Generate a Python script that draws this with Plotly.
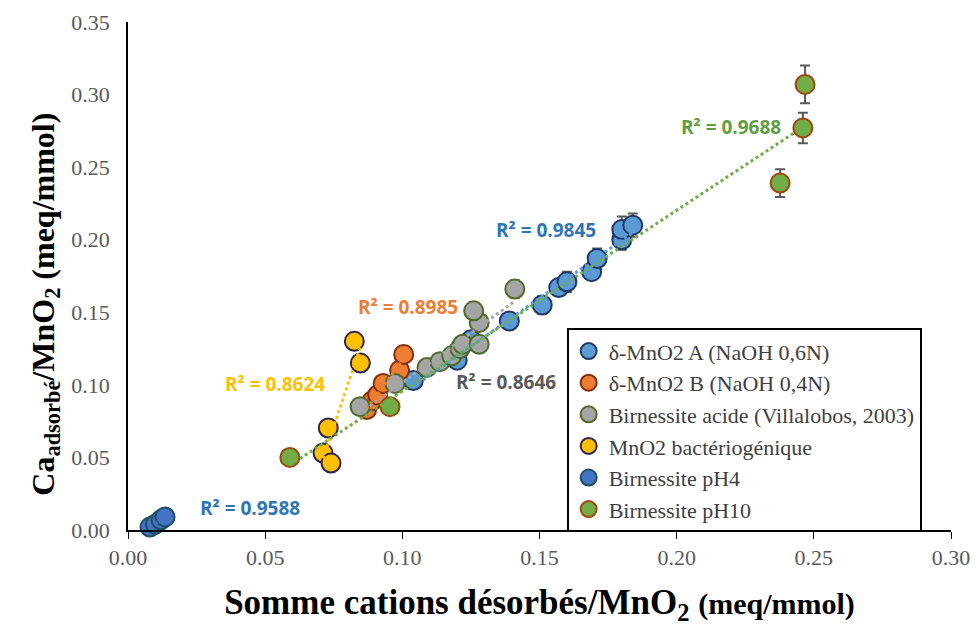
import numpy as np
import plotly.graph_objects as go

# ---------------- data ----------------
series_names = [
    "δ-MnO2 A (NaOH 0,6N)",
    "δ-MnO2 B (NaOH 0,4N)",
    "Birnessite acide (Villalobos, 2003)",
    "MnO2 bactériogénique",
    "Birnessite pH4",
    "Birnessite pH10",
]

a_x = [0.104, 0.120, 0.125, 0.139, 0.151, 0.157, 0.160, 0.169, 0.171, 0.180, 0.180, 0.184]
a_y = [0.103, 0.117, 0.131, 0.144, 0.155, 0.167, 0.171, 0.178, 0.187, 0.200, 0.207, 0.210]
a_err = [0.0, 0.0, 0.0, 0.0, 0.006, 0.0, 0.007, 0.0, 0.007, 0.007, 0.009, 0.008]

b_x = [0.087, 0.089, 0.091, 0.093, 0.099, 0.1005]
b_y = [0.083, 0.089, 0.093, 0.101, 0.110, 0.121]

ac_x = [0.0846, 0.0973, 0.109, 0.1137, 0.118, 0.121, 0.122, 0.128, 0.128, 0.126, 0.141]
ac_y = [0.085, 0.101, 0.112, 0.116, 0.120, 0.125, 0.128, 0.128, 0.143, 0.151, 0.166]
ac_err = [0, 0, 0, 0, 0, 0, 0, 0, 0, 0.004, 0.006]

bact_x = [0.0825, 0.0847, 0.0730, 0.0711, 0.0740]
bact_y = [0.130, 0.115, 0.0703, 0.0530, 0.0461]

ph4_x = [0.008, 0.010, 0.012, 0.0135]
ph4_y = [0.002, 0.004, 0.007, 0.009]

ph10_x = [0.059, 0.0955, 0.2377, 0.2460, 0.2468]
ph10_y = [0.050, 0.085, 0.239, 0.277, 0.307]
ph10_err = [0, 0, 0.0095, 0.0105, 0.013]

r2_labels = ["R² = 0.9845", "R² = 0.8985", "R² = 0.8646", "R² = 0.8624", "R² = 0.9588", "R² = 0.9688"]
r2_x = [0.1524, 0.1021, 0.1378, 0.0536, 0.0445, 0.2198]
r2_y = [0.2067, 0.1537, 0.1020, 0.1006, 0.0152, 0.2777]

fills = ["#5B9BD5", "#ED7D31", "#A5A5A5", "#FFC000", "#4472C4", "#70AD47"]
borders = ["#1F3864", "#842D0C", "#4E6B2A", "#2E2352", "#1F4E5F", "#9E480E"]
text_colors = ["#2E75B6", "#ED7D31", "#595959", "#FFC000", "#2E75B6", "#5E9E3E"]

xs = [a_x, b_x, ac_x, bact_x, ph4_x, ph10_x]
ys = [a_y, b_y, ac_y, bact_y, ph4_y, ph10_y]
errs = [a_err, None, ac_err, None, None, ph10_err]

fig = go.Figure()

for i in range(6):
    err = None
    if errs[i] is not None:
        err = dict(type="data", array=errs[i], visible=True, color="#595959",
                   thickness=2, width=5)
    fig.add_trace(go.Scatter(
        x=xs[i], y=ys[i], mode="markers", name=series_names[i],
        marker=dict(size=19, color=fills[i], line=dict(color=borders[i], width=2)),
        error_y=err, cliponaxis=False,
    ))

# trendlines (linear fits)
for i in range(6):
    xv = np.array(xs[i])
    yv = np.array(ys[i])
    k, c = np.polyfit(xv, yv, 1)
    xl = np.array([xv.min(), xv.max()])
    fig.add_trace(go.Scatter(
        x=xl, y=k * xl + c, mode="lines", showlegend=False, hoverinfo="skip",
        line=dict(color=fills[i], width=3, dash="dot"),
    ))

for i in range(6):
    fig.add_annotation(x=r2_x[i], y=r2_y[i], text="<b>" + r2_labels[i] + "</b>",
                       showarrow=False, xref="x", yref="y",
                       font=dict(family="Open Sans", size=19, color=text_colors[i]))

# y-axis title as rotated annotation
fig.add_annotation(x=-0.1, y=0.445, xref="paper", yref="paper",
                   xanchor="center", yanchor="middle", textangle=-90, showarrow=False,
                   text="<b>Ca<sub>adsorbé</sub>/MnO<sub>2</sub> (meq/mmol)</b>",
                   font=dict(family="Liberation Serif", size=32, color="black"))

fig.update_layout(
    width=978, height=630,
    paper_bgcolor="white", plot_bgcolor="white",
    margin=dict(l=120, r=35, t=14, b=108),
    showlegend=True,
    legend=dict(x=0.533, y=0.397, xanchor="left", yanchor="top",
                bordercolor="black", borderwidth=2, bgcolor="white",
                font=dict(family="Liberation Serif", size=22, color="#404040"),
                itemwidth=30, tracegroupgap=0),
    xaxis=dict(range=[0, 0.3], dtick=0.05, tickformat=".2f", showgrid=False,
               zeroline=False, showline=True, linecolor="black", linewidth=1.5,
               ticks="outside", ticklen=7, tickcolor="black", automargin=False,
               tickfont=dict(family="Liberation Serif", size=22, color="#595959"),
               title=dict(text="<b>Somme cations désorbés/MnO<sub>2</sub> <span style='font-size:30px'>(meq/mmol)</span></b>",
                          font=dict(family="Liberation Serif", size=35, color="black"),
                          standoff=20)),
    yaxis=dict(range=[0, 0.35], dtick=0.05, tickformat=".2f", showgrid=False,
               zeroline=False, showline=True, linecolor="black", linewidth=1.5,
               ticks="", ticklen=0, ticklabelstandoff=12, automargin=False,
               tickfont=dict(family="Liberation Serif", size=22, color="#595959")),
)

fig.write_html("out.html")
